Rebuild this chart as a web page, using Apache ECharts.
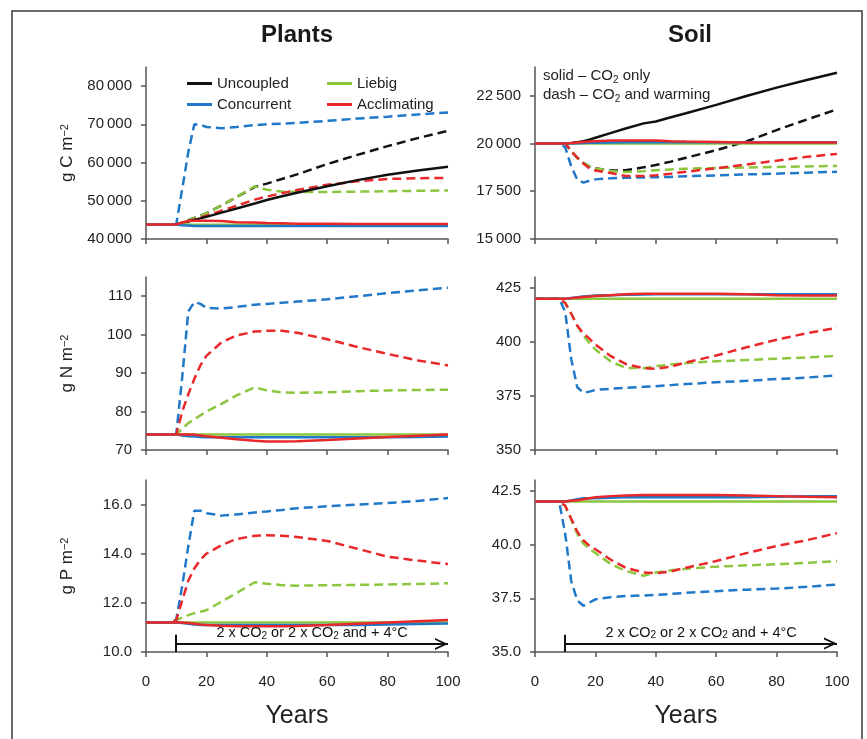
<!DOCTYPE html>
<html><head><meta charset="utf-8">
<script src="https://cdn.jsdelivr.net/npm/echarts@6/dist/echarts.min.js"></script>
<style>html,body{margin:0;padding:0;background:#fff}#c{width:867px;height:739px}</style>
</head><body><div id="c"></div>
<script>
// ---------- DATA ----------
const years = [0,8,10,12,14,16,18,20,25,30,36,40,45,50,60,70,80,90,100];

// Plants, carbon (g C m-2)
const plantC_Uncoupled_co2    = [43800,43800,43800,44200,44600,45000,45400,45800,46900,48000,49300,50200,51200,52100,53800,55400,56800,57900,58900];
const plantC_Uncoupled_warm   = [43800,43800,43800,44300,44900,45500,46100,46700,48800,51000,53600,54500,55700,56900,59600,62000,64300,66400,68300];
const plantC_Liebig_co2       = [43800,43800,43800,43800,43800,43700,43700,43700,43700,43700,43700,43700,43700,43700,43700,43700,43700,43700,43700];
const plantC_Liebig_warm      = [43800,43800,43800,44300,44900,45500,46100,46700,48800,51000,53800,52900,52400,52300,52300,52400,52500,52600,52700];
const plantC_Concurrent_co2   = [43800,43800,43800,43600,43500,43400,43400,43400,43400,43400,43400,43400,43400,43400,43400,43400,43400,43400,43400];
const plantC_Concurrent_warm  = [43800,43800,43800,53100,62700,70000,69900,69300,69000,69300,69800,70000,70200,70400,70900,71500,72000,72600,73100];
const plantC_Acclimating_co2  = [43800,43800,43800,44300,44700,44800,44800,44800,44700,44400,44300,44200,44100,44000,44000,43900,43900,43900,43900];
const plantC_Acclimating_warm = [43800,43800,43800,44200,44700,45100,45600,46100,47400,48700,50300,51100,52000,52800,54200,55100,55700,55900,56000];

// Soil, carbon
const soilC_Uncoupled_co2    = [20000,20000,20000,20020,20060,20120,20200,20300,20540,20780,21050,21150,21370,21580,22020,22480,22920,23320,23700];
const soilC_Uncoupled_warm   = [20000,20000,20000,19600,19250,18980,18800,18700,18580,18600,18750,18870,19050,19250,19650,20100,20700,21250,21780];
const soilC_Liebig_co2       = [20000,20000,20000,20000,20000,20000,20000,20000,20000,20000,20000,20000,20000,20000,20000,20000,20000,20000,20000];
const soilC_Liebig_warm      = [20000,20000,20000,19600,19250,18980,18800,18700,18560,18500,18550,18600,18640,18680,18720,18740,18770,18800,18820];
const soilC_Concurrent_co2   = [20000,20000,20000,20000,20010,20020,20030,20040,20050,20060,20060,20060,20060,20060,20060,20060,20060,20060,20060];
const soilC_Concurrent_warm  = [20000,20000,19800,18800,18100,17950,18050,18120,18180,18200,18220,18230,18250,18280,18330,18380,18420,18470,18520];
const soilC_Acclimating_co2  = [20000,20000,20000,20020,20050,20080,20100,20120,20150,20150,20150,20150,20120,20100,20080,20050,20050,20050,20050];
const soilC_Acclimating_warm = [20000,20000,20000,19600,19250,18950,18700,18580,18450,18300,18300,18330,18420,18520,18700,18900,19100,19300,19450];

// Plants, nitrogen (g N m-2)
const plantN_Liebig_co2       = [74,74,74,74,74,74,74,74,74,74,74,74,74,74,74,74,74,74,74];
const plantN_Liebig_warm      = [74,74,74,75.5,77,78,79,80,82,84.2,86.3,85.5,85,84.9,85,85.3,85.5,85.6,85.7];
const plantN_Concurrent_co2   = [74,74,74,73.8,73.6,73.5,73.4,73.3,73.3,73.3,73.3,73.3,73.3,73.3,73.3,73.3,73.3,73.4,73.5];
const plantN_Concurrent_warm  = [74,74,74,89,106,108.5,108,107,106.8,107.2,107.8,108,108.3,108.6,109.2,110,110.8,111.5,112.2];
const plantN_Acclimating_co2  = [74,74,74,74,74,74,73.8,73.6,73.2,72.8,72.4,72.2,72.2,72.3,72.6,73,73.4,73.7,74];
const plantN_Acclimating_warm = [74,74,74,80,84.5,88.5,92,94.5,98,99.8,100.8,101,101,100.5,98.8,96.8,95,93.3,92];

// Soil, nitrogen
const soilN_Liebig_co2       = [420,420,420,420,420,420,420,420,420,420,420,420,420,420,420,420,420,420,420];
const soilN_Liebig_warm      = [420,420,418,413,407.5,403,399.5,396.5,391,388,387.8,388.8,389.5,390.2,391,391.6,392.2,392.8,393.5];
const soilN_Concurrent_co2   = [420,420,420,420.3,420.6,421,421.2,421.4,421.6,421.8,421.9,422,422,422,422,422,422,422,422];
const soilN_Concurrent_warm  = [420,420,414,392,379,376.5,377,377.8,378.3,378.7,379.2,379.5,380,380.5,381.3,382,382.8,383.5,384.5];
const soilN_Acclimating_co2  = [420,420,420,420.2,420.5,420.8,421,421.2,421.6,422,422.2,422.3,422.3,422.3,422.2,422,421.6,421.5,421.5];
const soilN_Acclimating_warm = [420,420,418,413,407.5,404,401.5,398.8,393.5,389.8,387.8,387.6,388.5,390.5,393.7,397.5,401,404,406.5];

// Plants, phosphorus (g P m-2)
const plantP_Liebig_co2       = [11.2,11.2,11.2,11.2,11.2,11.2,11.2,11.2,11.2,11.2,11.2,11.2,11.2,11.2,11.2,11.2,11.2,11.2,11.2];
const plantP_Liebig_warm      = [11.2,11.2,11.3,11.4,11.5,11.58,11.64,11.7,12.05,12.4,12.84,12.78,12.72,12.7,12.72,12.73,12.75,12.77,12.8];
const plantP_Concurrent_co2   = [11.2,11.2,11.2,11.18,11.15,11.12,11.1,11.1,11.1,11.1,11.1,11.1,11.1,11.1,11.1,11.1,11.12,11.14,11.16];
const plantP_Concurrent_warm  = [11.2,11.2,11.3,12.7,14.3,15.75,15.75,15.65,15.55,15.6,15.68,15.72,15.78,15.85,15.93,16.0,16.06,16.15,16.27];
const plantP_Acclimating_co2  = [11.2,11.2,11.2,11.2,11.18,11.15,11.12,11.1,11.07,11.05,11.05,11.05,11.05,11.06,11.1,11.15,11.2,11.25,11.3];
const plantP_Acclimating_warm = [11.2,11.2,11.3,12.1,12.9,13.4,13.75,14.0,14.35,14.6,14.73,14.75,14.73,14.68,14.52,14.2,13.88,13.72,13.58];

// Soil, phosphorus
const soilP_Liebig_co2       = [42,42,42,42,42,42,42,42,42,42,42,42,42,42,42,42,42,42,42];
const soilP_Liebig_warm      = [42,42,41.8,41.15,40.5,40.05,39.8,39.6,39.1,38.77,38.55,38.7,38.8,38.87,38.97,39.03,39.08,39.15,39.23];
const soilP_Concurrent_co2   = [42,42,42,42.05,42.1,42.15,42.15,42.15,42.17,42.2,42.2,42.2,42.2,42.2,42.2,42.2,42.22,42.24,42.25];
const soilP_Concurrent_warm  = [42,42,40.5,38.3,37.4,37.15,37.3,37.45,37.55,37.6,37.63,37.66,37.7,37.75,37.83,37.9,37.95,38.03,38.14];
const soilP_Acclimating_co2  = [42,42,42,42.03,42.06,42.1,42.15,42.2,42.25,42.28,42.3,42.3,42.3,42.3,42.3,42.28,42.25,42.22,42.2];
const soilP_Acclimating_warm = [42,42,41.8,41.2,40.6,40.2,39.95,39.78,39.3,38.92,38.7,38.66,38.75,38.92,39.23,39.6,39.93,40.2,40.53];

// Tick labels
const ticksPlantC = [40000,50000,60000,70000,80000];
const ticksSoilC  = [15000,17500,20000,22500];
const ticksPlantN = [70,80,90,100,110];
const ticksSoilN  = [350,375,400,425];
const ticksPlantP = [10,12,14,16];
const ticksSoilP  = [35,37.5,40,42.5];
const xTicks = [0,20,40,60,80,100];

// Treatment arrow (years) and its level in each bottom panel
const arrowYears = [10, 100];
const arrowLevelPlantP = 10.33, arrowBarPlantP = [10, 10.7];
const arrowLevelSoilP  = 35.39, arrowBarSoilP  = [35, 35.8];

// ---------- CHART ----------
const FONT = "'Liberation Sans', Arial, Helvetica, sans-serif";
const COLORS = { Uncoupled: '#111111', Concurrent: '#1f78c8', Liebig: '#8cc63e', Acclimating: '#e8282b' };
const AX = { color: '#555', width: 1.5 };

const grids = [
  { left: 146, top: 67,  width: 302, height: 172 },
  { left: 535, top: 67,  width: 302, height: 172 },
  { left: 146, top: 277, width: 302, height: 173 },
  { left: 535, top: 277, width: 302, height: 173 },
  { left: 146, top: 480, width: 302, height: 172 },
  { left: 535, top: 480, width: 302, height: 172 }
];

const fmtThousands = v => { const s = String(Math.round(v)); return s.length > 3 ? s.slice(0, s.length - 3) + '\u2009' + s.slice(-3) : s; };
const fmtOne = v => v.toFixed(1);
const fmtInt = v => String(v);

function yAxis(g, min, max, ticks, fmt, name) {
  return {
    gridIndex: g, type: 'value', min: min, max: max,
    axisLine: { show: true, lineStyle: AX },
    axisTick: { show: true, length: 5, customValues: ticks, lineStyle: AX },
    axisLabel: { customValues: ticks, formatter: fmt, fontSize: 15, color: '#222', margin: 14, fontFamily: FONT },
    splitLine: { show: false },
    name: name || '', nameLocation: 'middle', nameRotate: 90, nameGap: 70,
    nameTextStyle: { fontSize: 17, color: '#222', fontFamily: FONT,
      rich: { sup: { fontSize: 11, verticalAlign: 'top', color: '#222', fontFamily: FONT } } }
  };
}
function xAxis(g) {
  const bottom = g >= 4;
  return {
    gridIndex: g, type: 'value', min: 0, max: 100, interval: 20,
    axisLine: { show: true, onZero: false, lineStyle: AX },
    axisTick: { show: true, length: 5, lineStyle: AX },
    axisLabel: { show: bottom, fontSize: 15, color: '#222', margin: 22, fontFamily: FONT },
    splitLine: { show: false },
    name: bottom ? 'Years' : '', nameLocation: 'middle', nameGap: 52,
    nameTextStyle: { fontSize: 25, color: '#222', fontFamily: FONT }
  };
}

const series = [];
function add(g, name, kind, arr) {
  series.push({
    type: 'line', name: name, xAxisIndex: g, yAxisIndex: g,
    data: years.map((y, i) => [y, arr[i]]),
    showSymbol: false, symbol: 'none', silent: true,
    z: kind === 'co2' ? 3 : 2,
    itemStyle: { color: COLORS[name] },
    lineStyle: { color: COLORS[name], width: 2.5, type: kind === 'co2' ? 'solid' : [9, 5] },
    animation: false
  });
}
// solid (CO2 only) first, then dashed (CO2 + warming); Uncoupled dashed drawn beneath the others
add(0,'Uncoupled','co2',plantC_Uncoupled_co2); add(0,'Liebig','co2',plantC_Liebig_co2);
add(0,'Concurrent','co2',plantC_Concurrent_co2); add(0,'Acclimating','co2',plantC_Acclimating_co2);
add(0,'Uncoupled','warm',plantC_Uncoupled_warm); add(0,'Liebig','warm',plantC_Liebig_warm);
add(0,'Concurrent','warm',plantC_Concurrent_warm); add(0,'Acclimating','warm',plantC_Acclimating_warm);

add(1,'Uncoupled','co2',soilC_Uncoupled_co2); add(1,'Liebig','co2',soilC_Liebig_co2);
add(1,'Concurrent','co2',soilC_Concurrent_co2); add(1,'Acclimating','co2',soilC_Acclimating_co2);
add(1,'Uncoupled','warm',soilC_Uncoupled_warm); add(1,'Liebig','warm',soilC_Liebig_warm);
add(1,'Concurrent','warm',soilC_Concurrent_warm); add(1,'Acclimating','warm',soilC_Acclimating_warm);

add(2,'Liebig','co2',plantN_Liebig_co2); add(2,'Concurrent','co2',plantN_Concurrent_co2); add(2,'Acclimating','co2',plantN_Acclimating_co2);
add(2,'Liebig','warm',plantN_Liebig_warm); add(2,'Concurrent','warm',plantN_Concurrent_warm); add(2,'Acclimating','warm',plantN_Acclimating_warm);

add(3,'Liebig','co2',soilN_Liebig_co2); add(3,'Concurrent','co2',soilN_Concurrent_co2); add(3,'Acclimating','co2',soilN_Acclimating_co2);
add(3,'Liebig','warm',soilN_Liebig_warm); add(3,'Concurrent','warm',soilN_Concurrent_warm); add(3,'Acclimating','warm',soilN_Acclimating_warm);

add(4,'Liebig','co2',plantP_Liebig_co2); add(4,'Concurrent','co2',plantP_Concurrent_co2); add(4,'Acclimating','co2',plantP_Acclimating_co2);
add(4,'Liebig','warm',plantP_Liebig_warm); add(4,'Concurrent','warm',plantP_Concurrent_warm); add(4,'Acclimating','warm',plantP_Acclimating_warm);

add(5,'Liebig','co2',soilP_Liebig_co2); add(5,'Concurrent','co2',soilP_Concurrent_co2); add(5,'Acclimating','co2',soilP_Acclimating_co2);
add(5,'Liebig','warm',soilP_Liebig_warm); add(5,'Concurrent','warm',soilP_Concurrent_warm); add(5,'Acclimating','warm',soilP_Acclimating_warm);

// treatment arrows
const CHEVRON = 'path://M0,10 L5,0 L10,10 L8.4,10 L5,3.2 L1.6,10 Z M5,-10 L5.02,-10 L5,-9.98 Z';
function arrow(g, level, bar) {
  series.push({
    type: 'line', name: 'treatment', xAxisIndex: g, yAxisIndex: g, data: [], silent: true, animation: false,
    markLine: {
      silent: true, animation: false, symbol: ['none', CHEVRON], symbolSize: [12, 26],
      lineStyle: { color: '#111', width: 2, type: 'solid' },
      label: {
        show: true, position: 'insideMiddleTop', distance: 3, color: '#111', fontSize: 14.5, fontFamily: FONT,
        formatter: '2 x CO{sub|2} or 2 x CO{sub|2} and + 4°C',
        rich: { sub: { fontSize: 10, verticalAlign: 'bottom', color: '#111', fontFamily: FONT } }
      },
      emphasis: { disabled: true },
      data: [
        [{ coord: [arrowYears[0], level] }, { coord: [arrowYears[1], level] }],
        [{ coord: [arrowYears[0], bar[0]], symbol: 'none', label: { show: false } },
         { coord: [arrowYears[0], bar[1]], symbol: 'none' }]
      ]
    }
  });
}
arrow(4, arrowLevelPlantP, arrowBarPlantP);
arrow(5, arrowLevelSoilP, arrowBarSoilP);

const legendBase = {
  orient: 'vertical', top: 70, itemWidth: 25, itemHeight: 3, itemGap: 4, icon: 'rect',
  selectedMode: false,
  textStyle: { fontSize: 15, color: '#222', fontFamily: FONT, lineHeight: 17 }
};

const option = {
  backgroundColor: '#fff',
  animation: false,
  grid: grids,
  xAxis: grids.map((_, g) => xAxis(g)),
  yAxis: [
    yAxis(0, 40000, 85000, ticksPlantC, fmtThousands, 'g C m{sup|\u22122}'),
    yAxis(1, 15000, 24000, ticksSoilC, fmtThousands, ''),
    yAxis(2, 70, 115, ticksPlantN, fmtInt, 'g N m{sup|\u22122}'),
    yAxis(3, 350, 430, ticksSoilN, fmtInt, ''),
    yAxis(4, 10, 17, ticksPlantP, fmtOne, 'g P m{sup|\u22122}'),
    yAxis(5, 35, 43, ticksSoilP, fmtOne, '')
  ],
  legend: [
    Object.assign({}, legendBase, { left: 182, data: ['Uncoupled', 'Concurrent'] }),
    Object.assign({}, legendBase, { left: 322, data: ['Liebig', 'Acclimating'] })
  ],
  graphic: [
    { type: 'rect', silent: true, shape: { x: 12, y: 11, width: 850, height: 760 },
      style: { fill: 'none', stroke: '#3a3a3a', lineWidth: 1.5 } },
    { type: 'text', silent: true, x: 297, y: 35,
      style: { text: 'Plants', font: 'bold 24px ' + FONT, fill: '#1a1a1a', align: 'center', verticalAlign: 'middle' } },
    { type: 'text', silent: true, x: 690, y: 35,
      style: { text: 'Soil', font: 'bold 24px ' + FONT, fill: '#1a1a1a', align: 'center', verticalAlign: 'middle' } },
    { type: 'text', silent: true, x: 543, y: 67,
      style: { text: 'solid \u2013 CO{sub|2} only\ndash \u2013 CO{sub|2} and warming',
        fontSize: 15, fontFamily: FONT, fill: '#222', lineHeight: 18.5,
        rich: { sub: { fontSize: 10, verticalAlign: 'bottom', fill: '#222', fontFamily: FONT } } } }
  ],
  series: series
};

const chart = echarts.init(document.getElementById('c'), null, { renderer: 'canvas' });
chart.setOption(option);
</script>
</body></html>
